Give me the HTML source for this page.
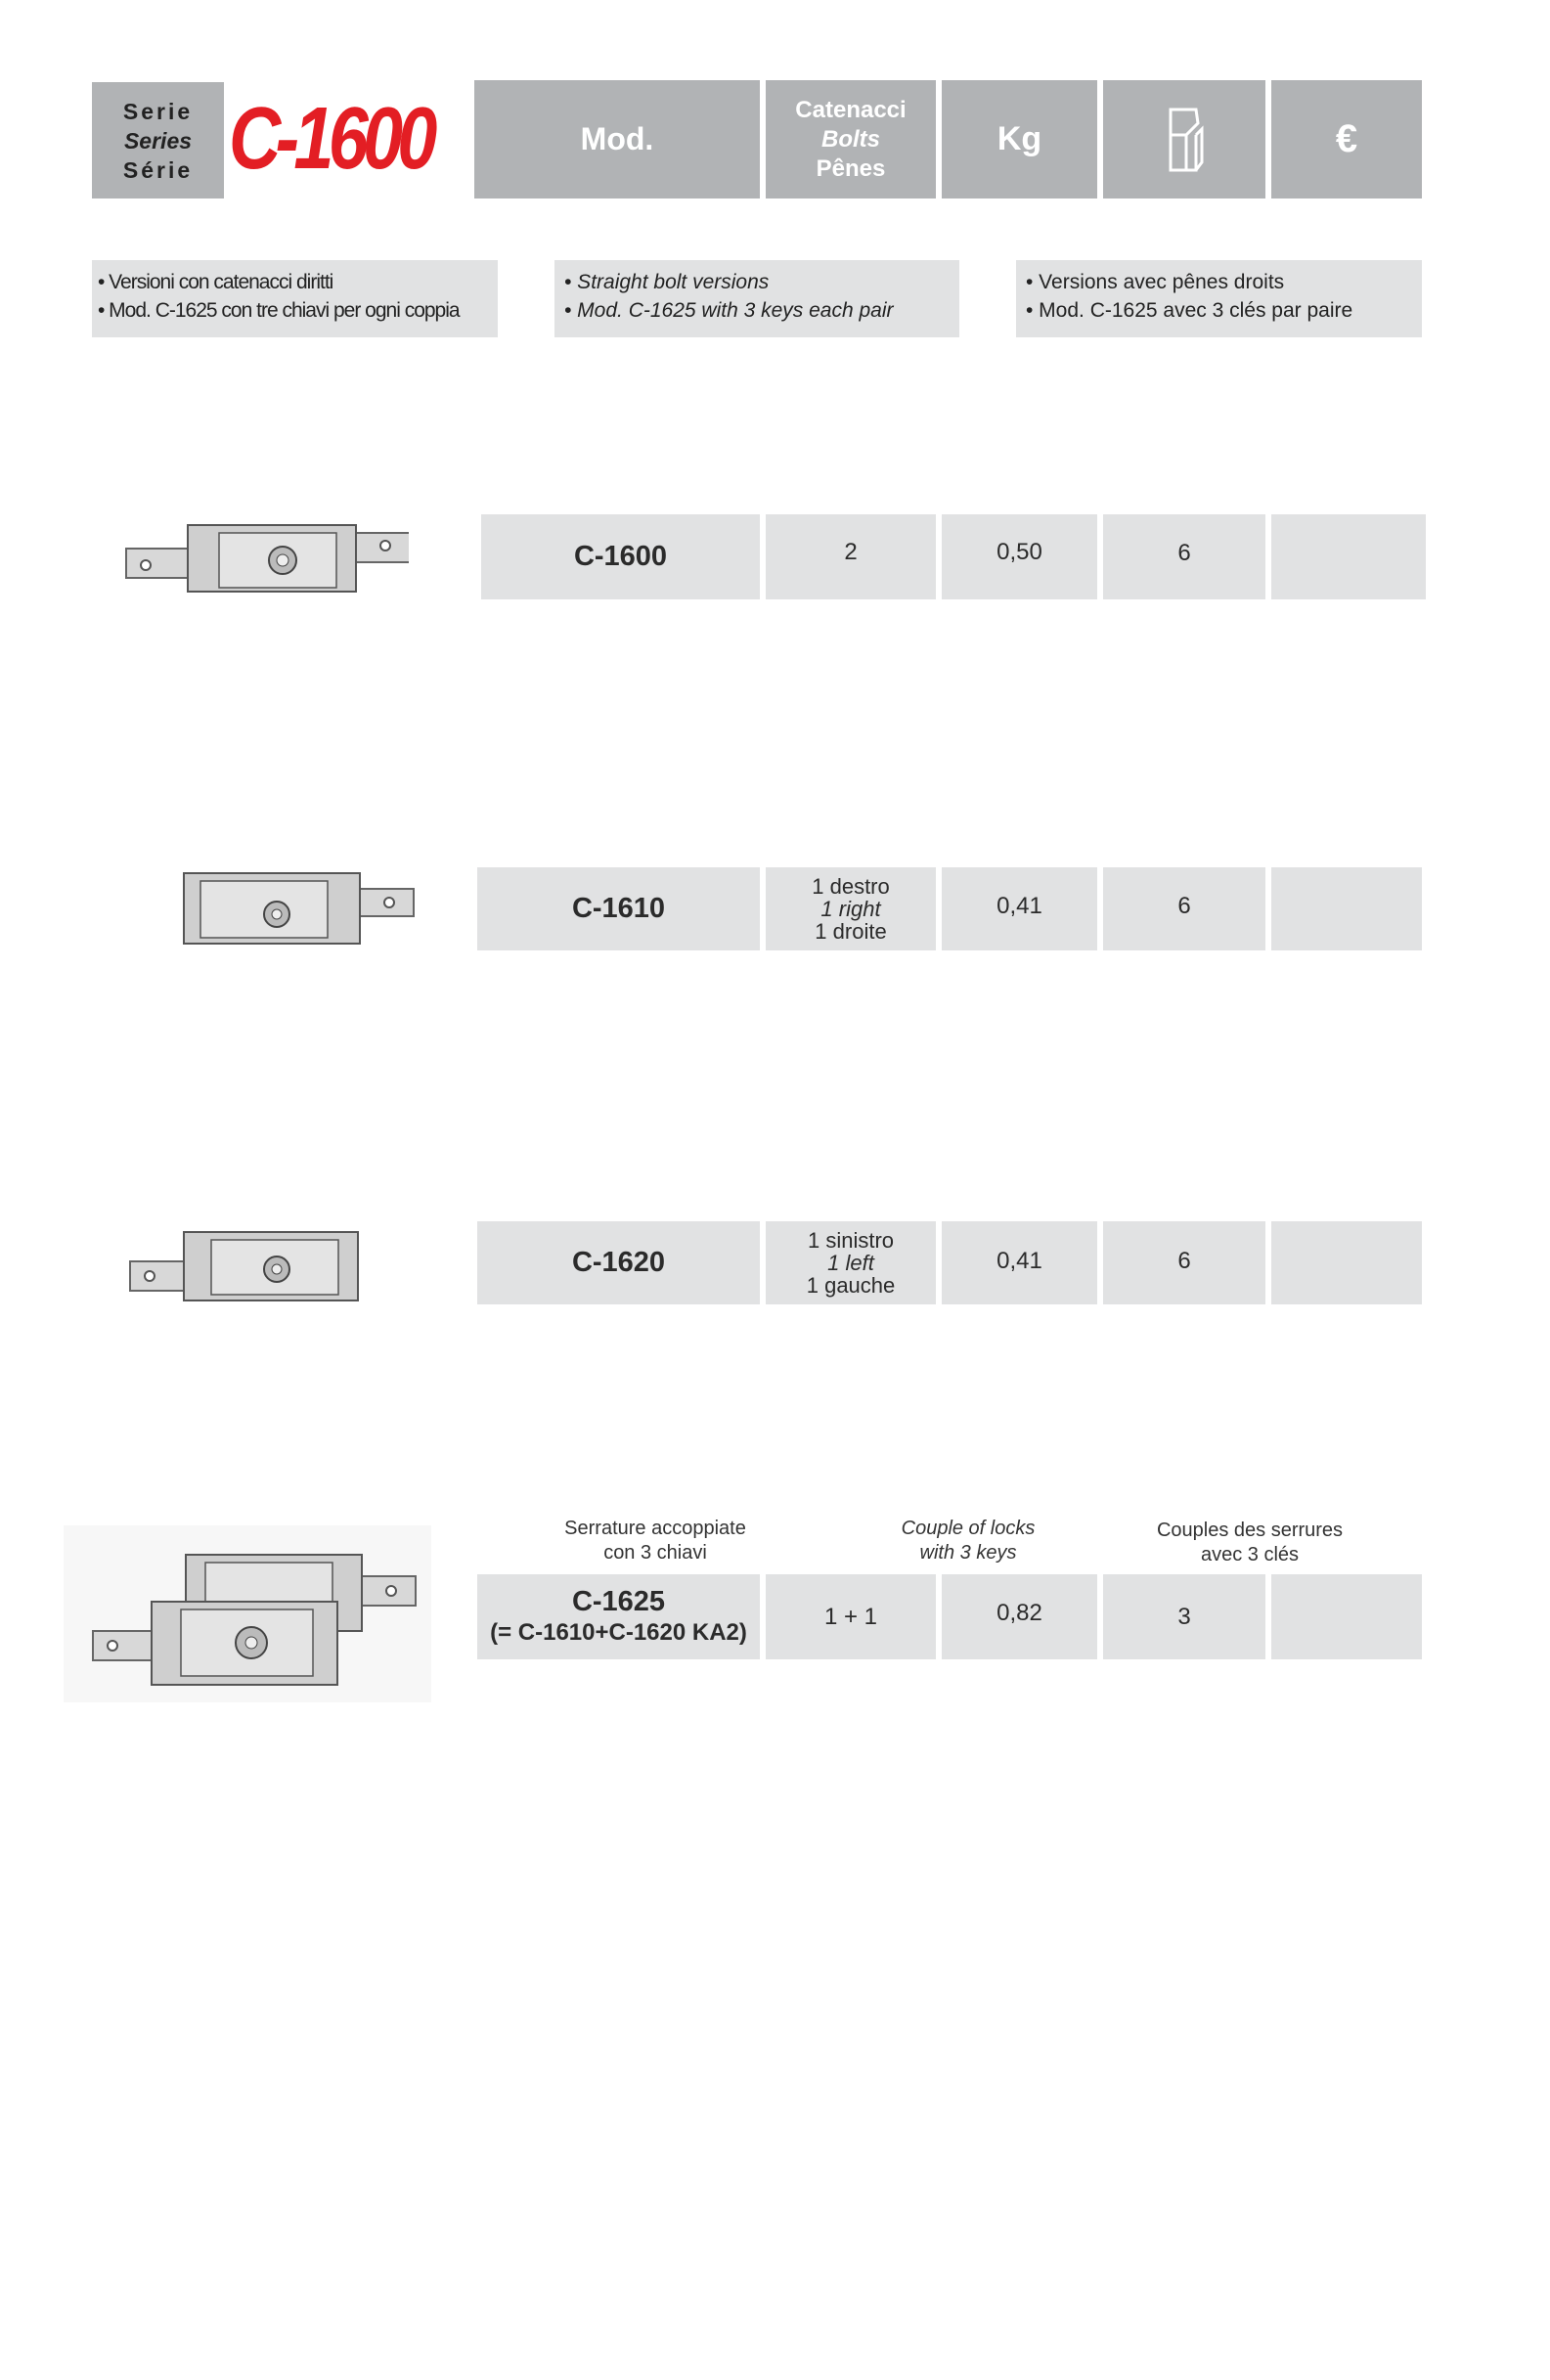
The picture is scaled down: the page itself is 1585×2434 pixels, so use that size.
<!DOCTYPE html>
<html><head><meta charset="utf-8"><style>
body{margin:0;background:#fff;font-family:"Liberation Sans",sans-serif;color:#2b2b2b}
#p{position:relative;width:1585px;height:2434px;overflow:hidden;background:#fff}
.a{position:absolute;box-sizing:border-box}
.h{background:#b1b3b5;color:#fff;font-weight:bold;display:flex;align-items:center;justify-content:center;text-align:center}
.c{background:#e1e2e3;display:flex;align-items:center;justify-content:center;text-align:center;font-size:24px}
.n{background:#e1e2e3;font-size:21px;line-height:29px;padding:8px 6px;color:#222}
.lb{font-size:20px;line-height:25px;text-align:center;color:#333}
svg{position:absolute}
</style></head><body><div id="p">
<div class="a h" style="left:94px;top:84px;width:135px;height:119px;color:#222;font-size:23px;line-height:30px;flex-direction:column;letter-spacing:3px">
<div>Serie</div><div style="font-style:italic;letter-spacing:0">Series</div><div>Série</div></div>
<div class="a" style="left:234px;top:82px;width:320px;height:120px;color:#e31e24;font-weight:bold;font-style:italic;font-size:90px;line-height:120px;letter-spacing:-7px;white-space:nowrap;transform:scaleX(0.82);transform-origin:left center">C-1600</div>
<div class="a h" style="left:485px;top:82px;width:292px;height:121px;font-size:32px">Mod.</div>
<div class="a h" style="left:783px;top:82px;width:174px;height:121px;font-size:24px;line-height:30px;flex-direction:column"><div>Catenacci</div><div style="font-style:italic">Bolts</div><div>Pênes</div></div>
<div class="a h" style="left:963px;top:82px;width:159px;height:121px;font-size:34px">Kg</div>
<div class="a h" style="left:1128px;top:82px;width:166px;height:121px">
<svg style="position:static" width="40" height="66" viewBox="0 0 40 66"><g fill="none" stroke="#fff" stroke-width="3"><path d="M6 2h26l2 14-12 12H6z"/><path d="M6 28l0 36h26V28"/><path d="M22 28v36M32 28l6-6v34l-6 8"/></g></svg></div>
<div class="a h" style="left:1300px;top:82px;width:154px;height:121px;font-size:40px">€</div>

<div class="a n" style="left:94px;top:266px;width:415px;height:79px;letter-spacing:-1px">• Versioni con catenacci diritti<br>• Mod. C-1625 con tre chiavi per ogni coppia</div>
<div class="a n" style="left:567px;top:266px;width:414px;height:79px;font-style:italic;padding-left:10px">• Straight bolt versions<br>• Mod. C-1625 with 3 keys each pair</div>
<div class="a n" style="left:1039px;top:266px;width:415px;height:79px;padding-left:10px">• Versions avec pênes droits<br>• Mod. C-1625 avec 3 clés par paire</div>

<div class="a c" style="left:492px;top:526px;width:285px;height:87px;font-weight:bold;font-size:29px">C-1600</div>
<div class="a c" style="left:783px;top:526px;width:174px;height:87px;padding-bottom:10px">2</div>
<div class="a c" style="left:963px;top:526px;width:159px;height:87px;padding-bottom:10px">0,50</div>
<div class="a c" style="left:1128px;top:526px;width:166px;height:87px;padding-bottom:8px">6</div>
<div class="a c" style="left:1300px;top:526px;width:158px;height:87px"></div>

<div class="a c" style="left:488px;top:887px;width:289px;height:85px;font-weight:bold;font-size:29px">C-1610</div>
<div class="a c" style="left:783px;top:887px;width:174px;height:85px;font-size:22px;line-height:23px;flex-direction:column"><div>1 destro</div><div style="font-style:italic">1 right</div><div>1 droite</div></div>
<div class="a c" style="left:963px;top:887px;width:159px;height:85px;padding-bottom:6px">0,41</div>
<div class="a c" style="left:1128px;top:887px;width:166px;height:85px;padding-bottom:6px">6</div>
<div class="a c" style="left:1300px;top:887px;width:154px;height:85px"></div>

<div class="a c" style="left:488px;top:1249px;width:289px;height:85px;font-weight:bold;font-size:29px">C-1620</div>
<div class="a c" style="left:783px;top:1249px;width:174px;height:85px;font-size:22px;line-height:23px;flex-direction:column"><div>1 sinistro</div><div style="font-style:italic">1 left</div><div>1 gauche</div></div>
<div class="a c" style="left:963px;top:1249px;width:159px;height:85px;padding-bottom:4px">0,41</div>
<div class="a c" style="left:1128px;top:1249px;width:166px;height:85px;padding-bottom:4px">6</div>
<div class="a c" style="left:1300px;top:1249px;width:154px;height:85px"></div>

<div class="a lb" style="left:520px;top:1551px;width:300px">Serrature accoppiate<br>con 3 chiavi</div>
<div class="a lb" style="left:840px;top:1551px;width:300px;font-style:italic">Couple of locks<br>with 3 keys</div>
<div class="a lb" style="left:1128px;top:1553px;width:300px">Couples des serrures<br>avec 3 clés</div>
<div class="a c" style="left:488px;top:1610px;width:289px;height:87px;font-weight:bold;font-size:29px;line-height:32px;flex-direction:column"><div>C-1625</div><div style="font-size:24px">(= C-1610+C-1620 KA2)</div></div>
<div class="a c" style="left:783px;top:1610px;width:174px;height:87px">1 + 1</div>
<div class="a c" style="left:963px;top:1610px;width:159px;height:87px;padding-bottom:8px">0,82</div>
<div class="a c" style="left:1128px;top:1610px;width:166px;height:87px">3</div>
<div class="a c" style="left:1300px;top:1610px;width:154px;height:87px"></div>

<svg style="left:124px;top:523px" width="294" height="93" viewBox="0 0 294 93">
<rect x="5" y="38" width="80" height="30" fill="#d8d8d8" stroke="#666" stroke-width="2"/>
<rect x="230" y="22" width="80" height="30" fill="#d8d8d8" stroke="#666" stroke-width="2"/>
<rect x="68" y="14" width="172" height="68" fill="#cfcfcf" stroke="#555" stroke-width="2"/>
<rect x="100" y="22" width="120" height="56" fill="#e4e4e4" stroke="#555" stroke-width="1.5"/>
<circle cx="165" cy="50" r="14" fill="#bbb" stroke="#444" stroke-width="2"/><circle cx="165" cy="50" r="6" fill="#eee" stroke="#444"/>
<circle cx="25" cy="55" r="5" fill="#fff" stroke="#555" stroke-width="2"/><circle cx="270" cy="35" r="5" fill="#fff" stroke="#555" stroke-width="2"/>
</svg>
<svg style="left:183px;top:887px" width="243" height="85" viewBox="0 0 243 85">
<rect x="170" y="22" width="70" height="28" fill="#d8d8d8" stroke="#666" stroke-width="2"/>
<rect x="5" y="6" width="180" height="72" fill="#cfcfcf" stroke="#555" stroke-width="2"/>
<rect x="22" y="14" width="130" height="58" fill="#e4e4e4" stroke="#555" stroke-width="1.5"/>
<circle cx="100" cy="48" r="13" fill="#bbb" stroke="#444" stroke-width="2"/><circle cx="100" cy="48" r="5" fill="#eee" stroke="#444"/>
<circle cx="215" cy="36" r="5" fill="#fff" stroke="#555" stroke-width="2"/>
</svg>
<svg style="left:128px;top:1248px" width="244" height="92" viewBox="0 0 244 92">
<rect x="5" y="42" width="70" height="30" fill="#d8d8d8" stroke="#666" stroke-width="2"/>
<rect x="60" y="12" width="178" height="70" fill="#cfcfcf" stroke="#555" stroke-width="2"/>
<rect x="88" y="20" width="130" height="56" fill="#e4e4e4" stroke="#555" stroke-width="1.5"/>
<circle cx="155" cy="50" r="13" fill="#bbb" stroke="#444" stroke-width="2"/><circle cx="155" cy="50" r="5" fill="#eee" stroke="#444"/>
<circle cx="25" cy="57" r="5" fill="#fff" stroke="#555" stroke-width="2"/>
</svg>
<svg style="left:65px;top:1560px" width="376" height="181" viewBox="0 0 376 181">
<rect x="0" y="0" width="376" height="181" fill="#f7f7f7"/>
<rect x="290" y="52" width="70" height="30" fill="#d8d8d8" stroke="#666" stroke-width="2"/>
<rect x="125" y="30" width="180" height="78" fill="#cfcfcf" stroke="#555" stroke-width="2"/>
<rect x="145" y="38" width="130" height="60" fill="#e4e4e4" stroke="#555" stroke-width="1.5"/>
<rect x="30" y="108" width="80" height="30" fill="#d8d8d8" stroke="#666" stroke-width="2"/>
<rect x="90" y="78" width="190" height="85" fill="#cfcfcf" stroke="#555" stroke-width="2"/>
<rect x="120" y="86" width="135" height="68" fill="#e4e4e4" stroke="#555" stroke-width="1.5"/>
<circle cx="192" cy="120" r="16" fill="#bbb" stroke="#444" stroke-width="2"/><circle cx="192" cy="120" r="6" fill="#eee" stroke="#444"/>
<circle cx="50" cy="123" r="5" fill="#fff" stroke="#555" stroke-width="2"/><circle cx="335" cy="67" r="5" fill="#fff" stroke="#555" stroke-width="2"/>
</svg>
</div></body></html>
